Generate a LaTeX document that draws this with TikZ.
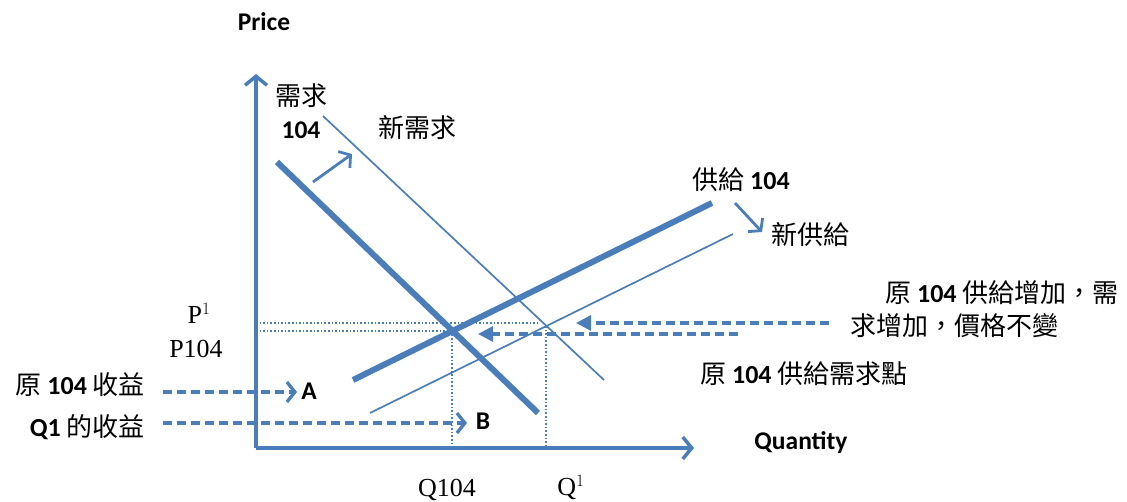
\documentclass[tikz,border=0pt]{standalone}
\usepackage{fontspec}
\setmainfont{Carlito}
\newfontfamily\cjkfont{Noto Sans CJK TC}
\newfontfamily\seriffont{Liberation Serif}
\usetikzlibrary{arrows.meta}
\definecolor{ob}{RGB}{74,126,187}
\newcommand\zhs[1]{{\cjkfont #1}}
\begin{document}
\begin{tikzpicture}[x=1pt,y=-1pt,
  txt/.style={inner sep=0pt,font=\fontsize{26}{30}\selectfont},
  lat/.style={inner sep=0pt,font=\fontsize{25.5}{30}\selectfont\bfseries},
  ser/.style={inner sep=0pt,font=\fontsize{26}{30}\selectfont\seriffont},
  axis/.style={ob,line width=3.5pt,-{Straight Barb[length=9pt,width=22pt,line width=3.5pt]}},
  thick curve/.style={ob,line width=6pt},
  thin curve/.style={ob,line width=1.7pt},
  shiftarrow/.style={ob,line width=2.8pt,-{Straight Barb[length=8pt,width=20pt,line width=2.8pt]}},
  guide/.style={ob,line width=1.6pt,dash pattern=on 1.6pt off 2pt},
  dasharrowopen/.style={ob,line width=3.3pt,dash pattern=on 9pt off 5pt,-{Straight Barb[length=8pt,width=20pt,line width=3.3pt]}},
  dasharrowfill/.style={ob,line width=3.3pt,dash pattern=on 9pt off 5pt,-{Triangle[length=15pt,width=15pt]}}
]
\useasboundingbox (0,0) rectangle (1127,502);
% axes
\coordinate (O) at (256,448);
\coordinate (Ytop) at (256,74);
\coordinate (Xend) at (694,448);
\draw[axis] (O) -- (Ytop);
\draw[axis] (O) -- (Xend);
\node[lat] (price) at (264,22) {Price};
\node[lat] (qty) at (801,443) {Quantity};
% curves
\coordinate (d1a) at (277,162); \coordinate (d1b) at (538,413);
\coordinate (d2a) at (323,116); \coordinate (d2b) at (604,380);
\coordinate (s1a) at (353,380); \coordinate (s1b) at (712,203);
\coordinate (s2a) at (370,413); \coordinate (s2b) at (733,234);
\draw[thick curve] (d1a) -- (d1b);
\draw[thin curve] (d2a) -- (d2b);
\draw[thick curve] (s1a) -- (s1b);
\draw[thin curve] (s2a) -- (s2b);
% shift arrows
\coordinate (ds1) at (313,182); \coordinate (ds2) at (352,154);
\coordinate (ss1) at (735,203); \coordinate (ss2) at (762,232);
\draw[shiftarrow] (ds1) -- (ds2);
\draw[shiftarrow] (ss1) -- (ss2);
% guides
\coordinate (E1) at (452,331);
\coordinate (E2) at (546,326);
\coordinate (p1l) at (256,323); \coordinate (p1r) at (537,323);
\coordinate (p0l) at (256,331);
\coordinate (q0b) at (452,448); \coordinate (q1b) at (546,448);
\draw[guide] (p1l) -- (p1r);
\draw[guide] (p0l) -- (E1);
\draw[guide] (E1) -- (q0b);
\draw[guide] (E2) -- (q1b);
% labels on curves
\node[txt] (dlab) at (301,96) {\zhs{需求}};
\node[lat] (dnum) at (301,130) {104};
\node[txt] (ndlab) at (417,128) {\zhs{新需求}};
\node[txt] (slab) at (741,180) {\zhs{供給} \textbf{104}};
\node[txt] (nslab) at (810,235) {\zhs{新供給}};
% price labels
\node[ser] (p1) at (199,313) {P$^{\fontsize{17}{18}\selectfont 1}$};
\node[ser] (p0) at (196,349) {P104};
\node[ser] (q0) at (447,490) {Q104};
\node[ser] (q1) at (571,488) {Q$^{\fontsize{17}{18}\selectfont 1}$};
% right notes
\node[txt,anchor=west] (note1a) at (885,293) {\zhs{原} \textbf{104} \zhs{供給增加，需}};
\node[txt,anchor=west] (note1b) at (850,326) {\zhs{求增加，價格不變}};
\node[txt,anchor=west] (note2) at (700,374) {\zhs{原} \textbf{104} \zhs{供給需求點}};
\coordinate (n1s) at (829,323); \coordinate (n1e) at (576,323);
\coordinate (n2s) at (738,334); \coordinate (n2e) at (478,334);
\draw[dasharrowfill] (n1s) -- (n1e);
\draw[dasharrowfill] (n2s) -- (n2e);
% left notes
\node[txt,anchor=east] (rev0) at (145,385) {\zhs{原} \textbf{104} \zhs{收益}};
\node[txt,anchor=east] (rev1) at (145,427) {\textbf{Q1} \zhs{的收益}};
\node[lat] (A) at (309,391) {A};
\node[lat] (B) at (483,421) {B};
\coordinate (a0) at (163,392); \coordinate (a1) at (297,392);
\coordinate (b0) at (163,423); \coordinate (b1) at (467,423);
\draw[dasharrowopen] (a0) -- (a1);
\draw[dasharrowopen] (b0) -- (b1);
\end{tikzpicture}
\end{document}
